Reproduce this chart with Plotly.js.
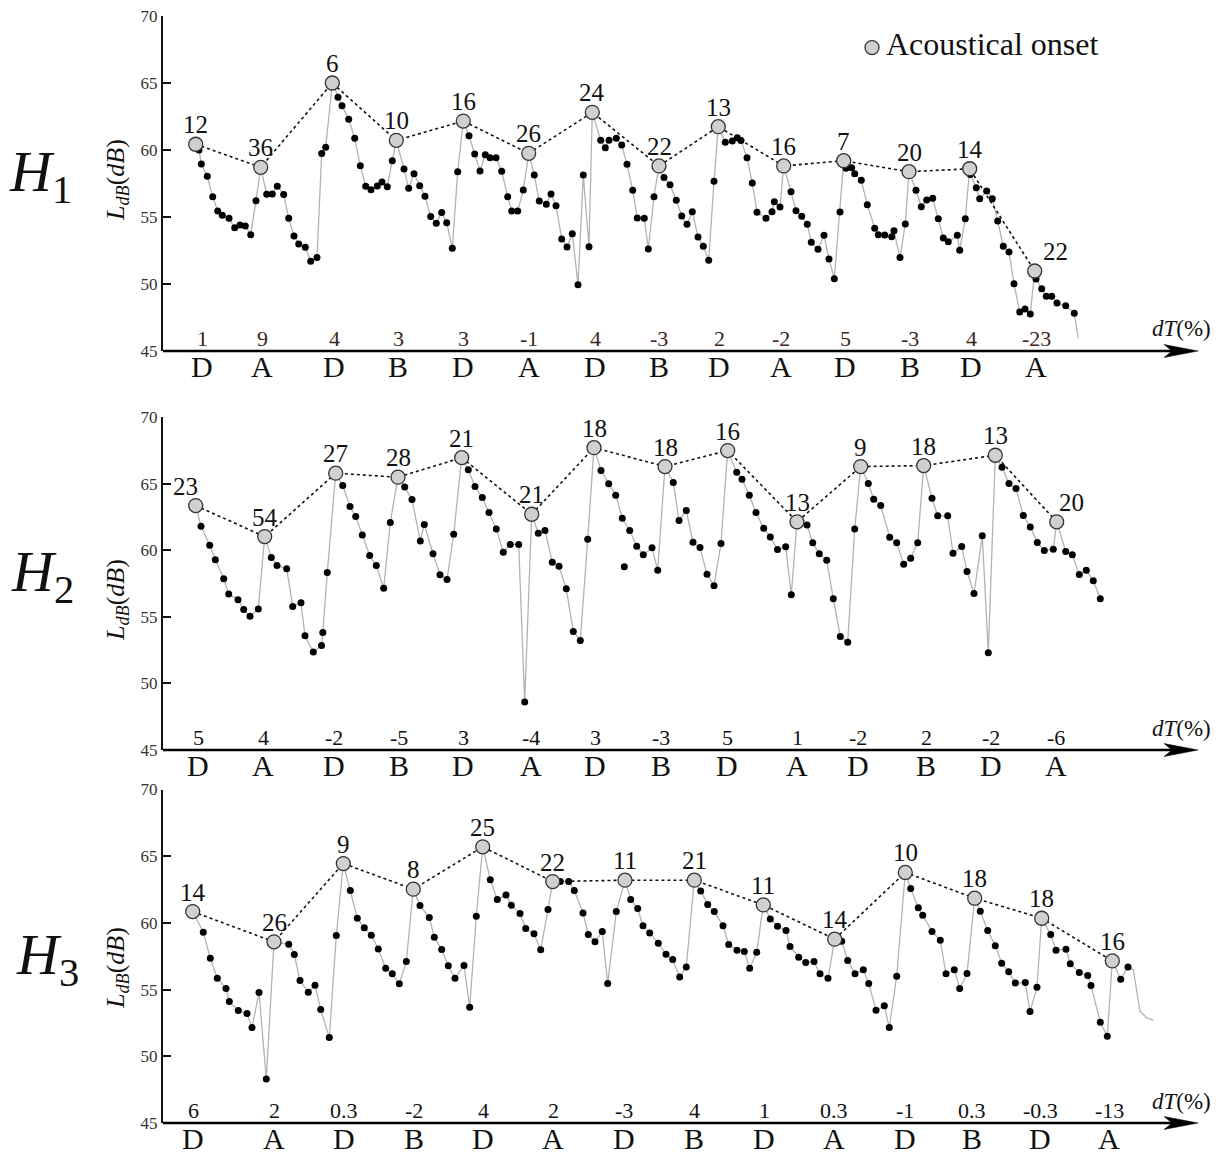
<!DOCTYPE html>
<html><head><meta charset="utf-8">
<script src="https://cdn.plot.ly/plotly-3.0.1.min.js"></script>
<style>body{margin:0;background:#fff}#chart{width:1229px;height:1159px}</style>
</head><body><div id="chart"></div>
<script>
// ---------- DATA (time in arbitrary units, level in dB) ----------
// Panel H1
const t1 = [199.0,201.3,207.3,212.7,217.7,222.3,229.0,234.7,240.0,245.3,250.7,256.0,266.7,272.3,277.3,283.7,288.7,294.0,298.7,305.3,310.7,317.0,321.7,325.7,338.0,342.0,348.7,354.7,360.3,365.7,371.0,377.3,382.0,387.3,392.3,404.0,408.7,414.0,419.7,425.0,430.7,436.3,441.7,446.7,452.3,457.7,469.0,474.7,480.0,485.3,490.0,496.0,501.7,507.7,511.7,517.7,523.3,534.3,539.3,546.3,551.0,556.0,561.7,567.0,572.3,578.0,583.3,589.0,600.7,605.3,609.0,616.3,621.7,627.0,632.7,637.3,644.3,648.3,654.0,664.0,670.0,676.3,681.7,687.0,692.3,698.0,703.3,708.7,714.0,725.3,732.3,737.3,741.0,747.0,752.3,757.0,766.0,772.0,774.3,780.0,791.0,796.0,801.7,807.3,811.3,818.0,824.0,829.0,834.3,840.0,846.0,851.7,854.7,861.3,867.3,874.7,878.3,884.7,891.7,894.0,900.0,905.3,916.0,921.3,926.7,932.7,938.3,943.3,948.3,957.3,959.7,965.3,970.3,976.3,979.7,986.7,992.3,997.7,1003.3,1009.0,1014.0,1019.7,1025.0,1030.3,1036.0,1041.7,1046.3,1051.7,1057.0,1065.7,1074.3];
const L1 = [60.00,58.96,58.04,56.52,55.45,55.13,54.90,54.20,54.40,54.33,53.68,56.22,56.70,56.72,57.30,56.67,54.90,53.58,52.99,52.74,51.69,51.97,59.73,60.20,63.93,63.31,62.29,60.87,58.83,57.29,57.04,57.31,57.61,57.26,59.20,58.58,57.14,58.23,57.34,56.55,55.03,54.53,55.33,54.58,52.66,58.38,61.07,59.70,58.43,59.65,59.43,59.43,58.41,56.52,55.45,55.45,57.01,58.13,56.19,55.95,56.72,55.84,53.36,52.76,53.75,49.95,58.13,52.78,60.72,60.17,60.72,60.87,60.37,58.93,56.99,54.93,54.90,52.61,56.52,57.94,57.41,56.25,55.07,54.45,55.40,53.51,52.81,51.77,57.66,60.57,60.67,60.91,60.70,59.43,57.54,55.35,54.90,55.40,56.14,55.75,56.89,55.47,55.05,54.45,53.11,52.59,53.63,51.87,50.40,55.37,58.63,58.68,58.23,57.74,55.92,54.16,53.68,53.66,53.53,53.98,51.97,54.48,56.99,55.77,56.27,56.39,54.87,53.43,53.16,53.63,52.51,54.87,58.18,57.19,56.37,56.94,56.37,54.70,52.81,52.39,50.02,47.91,48.13,47.76,50.37,49.65,49.08,49.08,48.58,48.38,47.81];
const tailT1 = [1078.3];
const tailL1 = [45.95];
const onsetT1 = [195.7,260.7,332.3,396.3,463.3,528.7,592.3,659.0,718.3,783.7,843.7,909.0,969.7,1034.7];
const onsetL1 = [60.43,58.71,65.00,60.72,62.16,59.75,62.81,58.81,61.74,58.81,59.20,58.38,58.60,50.97];
const onsetN1 = ["12","36","6","10","16","26","24","22","13","16","7","20","14","22"];
const segX1 = [202,262,334,398,463,529,595,659,719,781,845,910,971,1036];
const dT1 = ["1","9","4","3","3","-1","4","-3","2","-2","5","-3","4","-23"];
const seg1 = ["D","A","D","B","D","A","D","B","D","A","D","B","D","A"];

// Panel H2
const t2 = [201.0,209.7,215.3,223.7,228.7,238.0,243.7,250.0,258.3,271.3,277.0,286.7,292.7,301.0,305.0,313.3,321.5,322.8,327.3,342.7,350.0,355.7,362.3,369.7,376.3,383.7,390.3,404.7,412.0,420.3,424.3,433.0,440.0,447.0,453.7,468.3,475.0,482.3,489.0,496.3,503.3,510.3,518.7,524.7,538.3,545.0,552.3,559.0,566.3,573.3,580.3,587.7,601.0,608.7,615.7,622.3,629.7,636.7,643.3,652.0,657.7,673.3,679.0,686.3,693.0,700.0,707.0,714.0,721.0,736.7,742.0,749.3,756.0,763.7,770.3,777.5,785.7,791.3,807.0,812.7,819.3,826.7,833.3,840.3,847.7,854.7,868.3,873.7,880.7,889.7,896.7,903.7,910.7,917.7,932.0,937.7,947.7,953.0,961.7,967.0,974.0,982.3,988.3,1002.0,1009.0,1016.0,1023.3,1030.3,1037.3,1044.3,1053.3,1065.7,1072.3,1079.3,1086.3,1093.3,1100.3];
const L2 = [61.80,60.38,59.28,57.85,56.72,56.28,55.55,55.05,55.58,59.45,58.85,58.60,55.78,56.05,53.58,52.35,52.85,53.83,58.33,64.85,63.28,62.53,61.15,59.60,58.85,57.15,62.08,64.75,63.80,60.70,61.93,59.73,58.15,57.80,61.20,66.04,64.78,63.95,62.83,61.60,59.85,60.43,60.43,48.60,61.28,61.48,59.10,58.80,57.10,53.90,53.23,60.83,65.98,64.98,64.13,62.40,61.48,60.30,59.65,60.18,58.50,65.08,62.23,62.98,60.60,60.20,58.20,57.33,60.50,65.85,65.33,64.13,62.83,61.65,61.00,60.05,60.25,56.65,61.90,60.55,59.73,59.25,56.35,53.53,53.08,61.60,65.00,63.83,63.35,60.98,60.55,58.95,59.40,60.55,63.90,62.58,62.58,59.78,60.28,58.40,56.75,61.08,52.30,66.23,65.00,64.63,62.60,61.75,60.58,59.98,60.08,59.90,59.65,58.18,58.50,57.70,56.35];
const strayT2 = [624.3];
const strayL2 = [58.75];
const onsetT2 = [195.7,264.7,335.7,398.0,461.7,531.7,594.0,665.0,727.7,797.0,860.7,923.7,995.3,1056.7];
const onsetL2 = [63.35,61.02,65.78,65.48,66.95,62.70,67.70,66.28,67.48,62.13,66.28,66.35,67.13,62.13];
const onsetN2 = ["23","54","27","28","21","21","18","18","16","13","9","18","13","20"];
const segX2 = [198,263,334,399,463,531,595,661,727,797,858,926,991,1056];
const dT2 = ["5","4","-2","-5","3","-4","3","-3","5","1","-2","2","-2","-6"];
const seg2 = ["D","A","D","B","D","A","D","B","D","A","D","B","D","A"];

// Panel H3
const t3 = [203.3,210.3,217.3,226.0,229.3,238.3,247.0,252.0,259.0,266.3,288.7,294.3,300.0,308.3,315.0,320.7,329.3,336.3,350.3,357.3,364.3,371.3,378.3,385.7,392.3,399.3,406.3,420.0,429.3,434.3,441.7,448.3,455.0,464.0,469.7,476.3,490.3,497.3,506.0,511.3,520.0,525.7,534.0,540.7,548.0,560.3,568.7,574.3,583.0,588.3,595.0,602.3,607.7,616.3,630.7,637.7,643.0,649.7,658.3,666.0,672.7,679.7,686.3,700.7,707.7,714.3,723.0,728.7,737.0,744.3,749.7,756.7,770.3,777.5,786.0,790.0,798.7,805.7,814.0,820.0,828.0,841.7,847.7,855.0,863.3,868.7,876.0,884.3,889.3,896.7,910.7,918.3,922.7,932.0,940.3,946.0,954.3,959.7,967.0,980.3,987.7,995.3,1001.7,1008.7,1015.3,1025.3,1030.0,1037.0,1050.7,1056.0,1066.0,1070.3,1079.3,1087.7,1091.0,1100.3,1107.3,1120.7,1128.0];
const L3 = [59.30,57.35,55.85,55.08,54.10,53.43,53.20,52.15,54.78,48.30,58.40,57.63,55.68,54.80,55.33,53.50,51.40,59.05,62.43,60.35,59.63,59.08,58.05,56.60,56.18,55.43,57.10,61.30,60.40,58.93,58.00,56.78,55.85,56.80,53.68,60.50,63.23,61.75,62.10,61.33,60.70,59.58,59.18,57.98,61.00,63.10,63.10,62.43,60.75,59.13,58.58,59.35,55.45,60.85,61.75,61.08,59.78,59.25,58.48,57.65,57.25,55.95,56.70,62.40,61.38,60.85,59.78,58.38,57.95,57.85,56.60,57.80,60.30,59.75,59.43,58.23,57.43,57.03,57.10,56.18,55.85,58.63,57.18,56.18,56.48,55.45,53.45,53.78,52.15,56.00,62.58,61.13,60.58,59.35,58.70,56.18,56.48,55.08,56.20,60.88,59.43,58.28,56.98,56.33,55.50,55.53,53.35,55.18,59.13,57.95,58.03,56.93,56.28,56.05,55.30,52.55,51.50,55.78,56.70];
const tailT3 = [1133.3,1140.0,1146.7,1153.3];
const tailL3 = [56.50,53.38,52.90,52.70];
const onsetT3 = [192.7,274.0,343.3,413.3,482.7,552.7,625.0,694.3,763.3,834.7,905.3,974.7,1041.7,1112.3];
const onsetL3 = [60.85,58.58,64.45,62.53,65.70,63.10,63.20,63.20,61.35,58.78,63.78,61.85,60.35,57.15];
const onsetN3 = ["14","26","9","8","25","22","11","21","11","14","10","18","18","16"];
const segX3 = [193,274,344,414,483,553,624,694,764,834,905,972,1040,1109];
const dT3 = ["6","2","0.3","-2","4","2","-3","4","1","0.3","-1","0.3","-0.3","-13"];
const seg3 = ["D","A","D","B","D","A","D","B","D","A","D","B","D","A"];

const yTicks = [45,50,55,60,65,70];
const legendText = "Acoustical onset";

// ---------- LAYOUT HELPERS ----------
const W = 1229, H = 1159, ML = 163, MR = 29;
const PW = W - ML - MR;
const FONT = '"Liberation Serif", "DejaVu Serif", serif';
const px = x => (x - ML) / PW;       // pixel -> paper x
const py = y => 1 - y / H;           // pixel -> paper y
const panels = [
  {t:t1, L:L1, tailT:tailT1, tailL:tailL1, oT:onsetT1, oL:onsetL1, oN:onsetN1, sx:segX1, dT:dT1, seg:seg1, top:16, bot:351, dTcol:'#3d2616', label:'1', ytitle:180},
  {t:t2, L:L2, tailT:[], tailL:[], oT:onsetT2, oL:onsetL2, oN:onsetN2, sx:segX2, dT:dT2, seg:seg2, top:417, bot:750, dTcol:'#111', label:'2', ytitle:600},
  {t:t3, L:L3, tailT:tailT3, tailL:tailL3, oT:onsetT3, oL:onsetL3, oN:onsetN3, sx:segX3, dT:dT3, seg:seg3, top:789.5, bot:1123, dTcol:'#111', label:'3', ytitle:968}
];
const hLabelPos = [[40,175],[42,575],[47,958]];

const traces = [];
const layout = {
  width: W, height: H, margin: {l: ML, r: MR, t: 0, b: 0},
  paper_bgcolor: '#fff', plot_bgcolor: 'rgba(0,0,0,0)',
  font: {family: FONT, color: '#111'},
  showlegend: true,
  legend: {x: px(852), y: py(32), xanchor: 'left', yanchor: 'top', bgcolor: 'rgba(0,0,0,0)',
           font: {family: FONT, size: 14, color: '#111'}, itemwidth: 30},
  shapes: [], annotations: []
};

panels.forEach((p, k) => {
  const xa = k === 0 ? 'x' : 'x' + (k + 1);
  const ya = k === 0 ? 'y' : 'y' + (k + 1);
  const xKey = k === 0 ? 'xaxis' : 'xaxis' + (k + 1);
  const yKey = k === 0 ? 'yaxis' : 'yaxis' + (k + 1);
  layout[xKey] = {domain: [0, 1], range: [ML, ML + PW], anchor: ya, visible: false, fixedrange: true};
  layout[yKey] = {domain: [py(p.bot), py(p.top)], range: [45, 70], anchor: xa,
    showline: true, linecolor: '#111', linewidth: 2, ticks: 'inside', ticklen: 8, tickwidth: 2, tickcolor: '#111',
    tickvals: yTicks, ticktext: yTicks.map(String), tickfont: {family: FONT, size: 17, color: '#333'},
    showgrid: false, zeroline: false, fixedrange: true};

  // merge samples and onsets along time
  const pts = p.t.map((t, i) => [t, p.L[i], 7]).concat(p.oT.map((t, i) => [t, p.oL[i], 7]));
  pts.sort((a, b) => a[0] - b[0]);
  p.tailT.forEach((t, i) => pts.push([t, p.tailL[i], 0]));
  traces.push({x: pts.map(q => q[0]), y: pts.map(q => q[1]), xaxis: xa, yaxis: ya, mode: 'lines+markers',
    line: {color: '#b4b4ac', width: 1.3},
    marker: {color: '#000', opacity: 1, size: pts.map(q => q[2]), sizemode: 'diameter', line: {width: 0}},
    showlegend: false, hoverinfo: 'skip'});
  if (k === 1) {
    traces.push({x: strayT2, y: strayL2, xaxis: xa, yaxis: ya, mode: 'markers', marker: {color: '#000', size: 7, line: {width: 0}},
      showlegend: false, hoverinfo: 'skip'});
  }
  // dotted onset envelope
  traces.push({x: p.oT, y: p.oL, xaxis: xa, yaxis: ya, mode: 'lines', line: {color: '#111', width: 1.6, dash: 'dot'},
    showlegend: false, hoverinfo: 'skip'});
  // onset circles
  traces.push({x: p.oT, y: p.oL, xaxis: xa, yaxis: ya, mode: 'markers',
    marker: {color: '#d0d0d0', size: 14, opacity: 1, line: {color: '#333', width: 1.3}},
    name: ' ', showlegend: k === 0, hoverinfo: 'skip'});
  // onset labels
  p.oN.forEach((n, i) => {
    let xanchor = 'center', xshift = 0;
    if (k === 0 && i === p.oN.length - 1) { xanchor = 'left'; xshift = 6; }
    if (k === 1 && i === p.oN.length - 1) { xanchor = 'left'; xshift = 0; }
    if (k === 1 && i === 0) { xanchor = 'right'; xshift = 4; }
    layout.annotations.push({xref: xa, yref: ya, x: p.oT[i], y: p.oL[i], xanchor: xanchor, yanchor: 'bottom',
      xshift: xshift, yshift: 4, text: n, showarrow: false, font: {family: FONT, size: 25, color: '#111'}});
  });

  // dT values above axis, segment letters below axis
  p.sx.forEach((x, i) => {
    layout.annotations.push({xref: xa, yref: ya, x: x, y: 45, yanchor: 'bottom', xanchor: 'center', yshift: -2,
      text: p.dT[i], showarrow: false, font: {family: FONT, size: 22, color: p.dTcol}});
    layout.annotations.push({xref: xa, yref: ya, x: x, y: 45, yanchor: 'top', xanchor: 'center', yshift: 3,
      text: p.seg[i], showarrow: false, font: {family: FONT, size: 30, color: '#111'}});
  });

  // arrow axis
  const yAx = py(p.bot);
  layout.shapes.push({type: 'line', xref: 'paper', yref: 'paper', x0: 0, x1: px(1185), y0: yAx, y1: yAx,
    line: {color: '#000', width: 2.5}});
  layout.shapes.push({type: 'path', xref: 'paper', yref: 'paper', xsizemode: 'pixel', ysizemode: 'pixel',
    xanchor: px(1198), yanchor: yAx, path: 'M0,0 L-34,-6.5 L-26,0 L-34,6.5 Z',
    fillcolor: '#000', line: {color: '#000', width: 0.5}});
  layout.annotations.push({xref: 'paper', yref: 'paper', x: px(1150), y: py(p.bot - 22), xanchor: 'left', yanchor: 'middle',
    text: '<i>dT</i>(%)', showarrow: false, font: {family: FONT, size: 23, color: '#111'}});
  // y title
  layout.annotations.push({xref: 'paper', yref: 'paper', x: px(117), y: py(p.ytitle), xanchor: 'center', yanchor: 'middle',
    textangle: -90, text: '<i>L</i><sub><i>dB</i></sub>(<i>dB</i>)', showarrow: false,
    font: {family: FONT, size: 26, color: '#111'}});
  // H label
  layout.annotations.push({xref: 'paper', yref: 'paper', x: px(hLabelPos[k][0]), y: py(hLabelPos[k][1]),
    xanchor: 'center', yanchor: 'middle', text: '<i>H</i><sub>' + p.label + '</sub>', showarrow: false,
    font: {family: FONT, size: 58, color: '#111'}});
});

// legend text drawn as annotation next to the legend marker
layout.annotations.push({xref: 'paper', yref: 'paper', x: px(884), y: py(44), xanchor: 'left', yanchor: 'middle',
  text: legendText, showarrow: false, font: {family: FONT, size: 32, color: '#111'}});

Plotly.newPlot('chart', traces, layout, {staticPlot: true, displayModeBar: false});
</script></body></html>
